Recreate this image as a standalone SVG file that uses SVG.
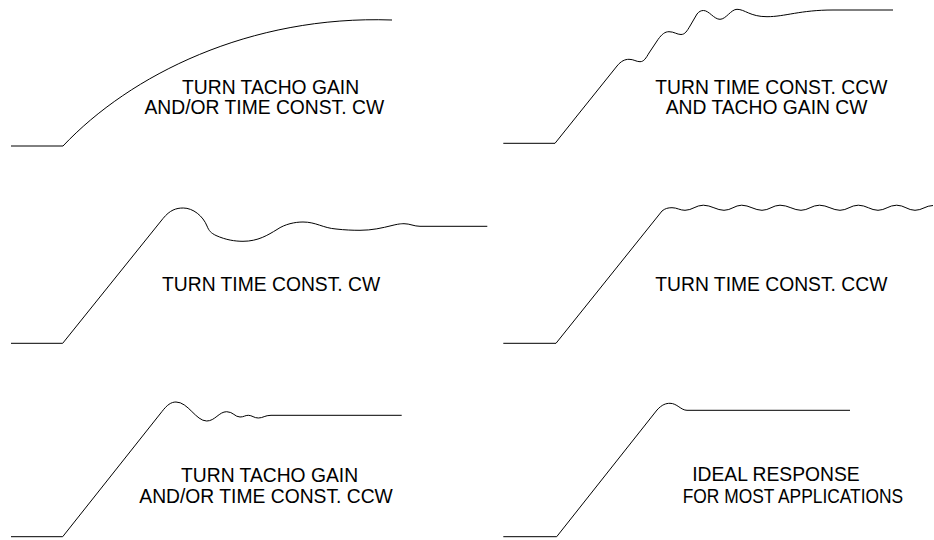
<svg xmlns="http://www.w3.org/2000/svg" width="934" height="540" viewBox="0 0 934 540">
<style>
.c{fill:none;stroke:#000;stroke-width:1;stroke-linejoin:round}
.t{font-family:"Liberation Sans",Arial,sans-serif;font-size:19.3px;fill:#000}
</style>
<rect width="934" height="540" fill="#fff"/>
<g id="panel1">
<path class="c" d="M11,146 L63,146 C130,75 250,15 392,20"/>
<text class="t" x="182" y="93.5">TURN TACHO GAIN</text>
<text class="t" x="144.5" y="114">AND/OR TIME CONST. CW</text>
</g>
<g id="panel2">
<path class="c" d="M503.3,143.3 L555,143.3 L617,66 C621,61 625,59.3 629,59.3 C634,59.3 636,61.7 640,61.7 C644,61.7 646,58 649,53 L658,39.5 C662,34 665,31.7 669,31.7 C674,31.7 677,34.5 681,34.5 C685,34.5 687,31 690,26 L697,14 C699,11.5 701,10.5 703.5,10.5 C709,10.5 714,19.3 720,19.3 C726,19.3 731,9.3 737,9.3 C745,9.3 750,16.7 767,16.7 C785,16.7 800,10 833,10 L893,10"/>
<text class="t" x="655.3" y="93.5">TURN TIME CONST. CCW</text>
<text class="t" x="665.7" y="114">AND TACHO GAIN CW</text>
</g>
<g id="panel3">
<path class="c" d="M11,343.3 L62.7,343.3 L163,218.5 C170,210 176,208 183.3,208 C193,208 203,216 207,226 C209,231 211,233 216,235.5 C226,240 235,241.3 243,241.3 C258,241.3 268,235 277,229.5 C285,224 295,222 303,222 C316,222 323,228 336,229 C345,230 352,230.3 360,230.3 C372,230.3 382,228 392,225.5 C398,224 401,223.7 404,223.7 C410,223.7 414,226.3 420,226.3 L487.3,226.3"/>
<text class="t" x="162" y="291">TURN TIME CONST. CW</text>
</g>
<g id="panel4">
<path class="c" d="M503.3,343.3 L556,343.3 L662,211 C665,208.5 668,207.7 672,207.7 C677,207.7 680,210.3 685,210.3 C692,210.3 696,205.2 703.3,205.2 C711,205.2 717,210.3 724,210.3 C731,210.3 735,205.2 741.7,205.2 C749,205.2 755,210.3 762,210.3 C769,210.3 773,205.2 780,205.2 C788,205.2 794,210.3 801,210.3 C808,210.3 812,205.2 819.5,205.2 C827,205.2 833,210.3 840,210.3 C847,210.3 851,205.2 858.3,205.2 C866,205.2 871,210.3 878,210.3 C885,210.3 889,205.2 896.7,205.2 C904,205.2 908,210.3 915,210.3 C922,210.3 926,205.5 933,205.5"/>
<text class="t" x="655.3" y="291">TURN TIME CONST. CCW</text>
</g>
<g id="panel5">
<path class="c" d="M11,536.7 L62.7,536.7 L162,411.5 C167,405 171,402 176,402 C188,402 196,421 206.7,421 C215,421 219,411.7 226.7,411.7 C233,411.7 235,417 240,417 C244,417 245,415.3 248.3,415.3 C252,415.3 254,418 258.3,418 C263,418 265,415.3 271,415.3 L401.7,415.3"/>
<text class="t" x="181" y="482.3">TURN TACHO GAIN</text>
<text class="t" x="139.3" y="503.3">AND/OR TIME CONST. CCW</text>
</g>
<g id="panel6">
<path class="c" d="M503.3,536.7 L556.7,536.7 L657,410 C662,404.5 666,403.3 670,403.3 C677,403.3 681,410.3 687,410.3 L850,410.3"/>
<text class="t" x="692.2" y="481">IDEAL RESPONSE</text>
<text class="t" x="682.7" y="502.7" textLength="220.5" lengthAdjust="spacingAndGlyphs">FOR MOST APPLICATIONS</text>
</g>
</svg>
